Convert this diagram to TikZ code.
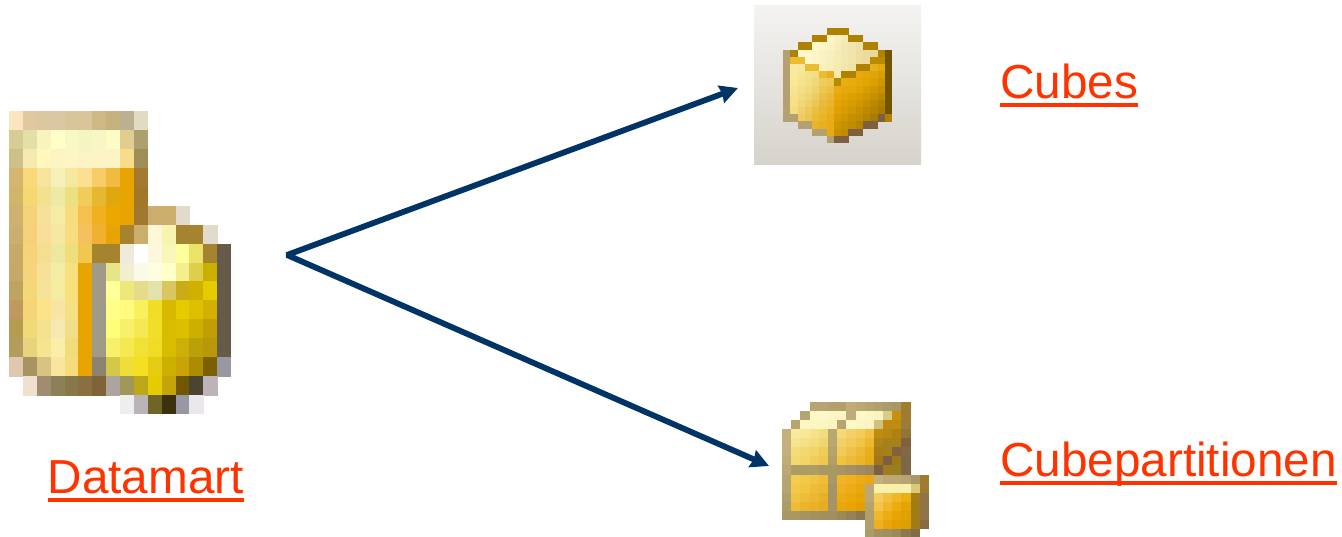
\documentclass[tikz,border=0pt]{standalone}
\usepackage{fontspec}
\usetikzlibrary{arrows.meta}
\setmainfont{Liberation Sans}
\definecolor{linkred}{HTML}{FF3300}
\definecolor{arrownavy}{HTML}{003366}
\definecolor{boxtop}{HTML}{F4F3F1}
\definecolor{boxbottom}{HTML}{D6D3CB}
\def\nopix{n}
% icon drawn cell by cell: x, y, cell width, cell height, rows
\newcommand{\pixicon}[5]{%
\foreach \row [count=\j from 0] in {#5} {
\foreach \c [count=\i from 0] in \row {
\ifx\c\nopix\else
\definecolor{pix}{HTML}{\c}
\fill[pix] (#1+\i*#3,#2+\j*#4) rectangle ++(#3+0.4,#4+0.4);
\fi
}}}
\tikzset{
linktext/.style={text=linkred, inner sep=0pt, font=\fontsize{47.7}{50}\selectfont},
linkline/.style={draw=linkred, line width=3.8pt},
flow/.style={{Stealth[length=18pt,width=18pt,inset=1.5pt]}-{Stealth[length=18pt,width=18pt,inset=1.5pt]}, color=arrownavy, line width=5.8pt, line join=bevel}
}
\begin{document}
\begin{tikzpicture}[x=1pt,y=-1pt]
\useasboundingbox (0,0) rectangle (1342,537);
\fill[white] (0,0) rectangle (1342,537);
% datamart
\pixicon{9}{111}{13.875}{18.94}{
{FCE4C0,E0C8A0,DCC8A0,DCC8A0,D9C59A,D9C59A,CEB985,C6B27F,BBB08F,E2DBC1,n,n,n,n,n,n},
{D6CC94,E4DFA6,F9F4BE,FFFFC8,F8F8C4,F5F5C0,F8F6C4,FDFBC6,E2CD90,ACA071,n,n,n,n,n,n},
{CDC088,F6E9B0,FFF7BC,FBF3C0,FDF5C4,FBF3C4,FBF3C4,FCF3C2,F8DC8C,9C8E54,n,n,n,n,n,n},
{D4B670,F8D878,F6E49C,F4F0B8,F6E8A0,FCDF90,F8CC68,F0BC40,E8A400,A47A30,n,n,n,n,n,n},
{D2B668,F4D870,F2E290,ECEAA4,EEE080,F0CC58,E4B830,E0A810,E8A400,A07828,n,n,n,n,n,n},
{CFB270,F4D27A,F6E09A,F4ECA4,F6DC7C,F6C050,F0B020,ECA800,E8A400,A07830,CCAE6C,CCAE6C,E2DACC,n,n,n},
{CCAE70,F5D27A,F8DE98,F6E8A0,F8DC80,F5C060,F0B030,E8A404,A6832F,CCAE6C,FCF8D8,F8F4B0,A6832F,A6832F,E2DACC,n},
{C8AA68,F6D278,F4DE90,ECE8A0,EEDE7C,F0C850,A6832F,A6832F,F0EADC,FFFFFF,FCF8DC,F8F6B8,FFFF9C,ECE268,A6832F,665A48},
{C6A868,F6D47C,F8E098,F2ECA4,F6E080,E8A400,A09A88,E8E488,F2EED0,FBFAE8,FFFDE0,FFFFC8,F4EE8C,DECE4C,CCB000,665A48},
{BEA460,F4D878,F6E298,F4ECA0,F8E07C,E8A400,A09A88,FFFF9C,EEE87C,E4DC88,E4E2AC,DAC660,C9AC18,D0B000,E4CC00,665A48},
{C09860,F6D478,FEE288,FAE4A4,F6E084,E8A400,A09A88,FFFF88,FFFA80,F9F060,F0DE24,D8B800,E4CC00,DEC000,D4B000,665A48},
{B49C50,F0DA78,F4E290,F6E8B0,F2DE88,E8A400,A09A88,FFFF78,F8F068,F6E854,F0DE28,D8BC00,DCC000,CCB000,C0A000,665A48},
{B49C5C,E8D47C,F6E490,FAEEA8,F0DC7C,E8A400,A09A88,F8F068,F6E850,F0E234,F0DC24,D8BC00,CCB008,BCA008,B89808,665A48},
{E0C8B0,A89460,D8C480,F9E4A0,F6DC7C,E8A400,8C8470,D4C848,F0DE38,F4E020,E4CC10,CCB000,C8A408,AC8C00,7C6000,9898A4},
{n,F0E0D0,A08C70,8C8058,887848,887040,806438,ACA4A0,A09858,BCA818,E4CC00,C4A408,705800,4C4430,BCB4B8,n},
{n,n,n,n,n,n,n,n,EEEEF0,B8B4B8,706428,3C3010,9898A4,EAE8EC,n,n}}
% cube
\shade[top color=boxtop, bottom color=boxbottom] (754,6) rectangle (921,165);
\pixicon{783}{28}{7.27}{7.19}{
{n,n,n,n,n,n,B08000,B08000,B08000,n,n,n,n,n,n},
{n,n,n,n,B08000,B08000,FCF4C8,F8F0C0,F4EAB8,B08000,B08000,n,n,n,n},
{n,n,B08000,B08000,FEF8C8,FCF6C4,FBF3C4,F6EEBC,F3E8B4,F0E4B0,EEDFA8,B08000,B08000,n,n},
{B4A070,B08000,FEF8D0,FEF8CC,FCF6C8,FAF2C4,F8F0C0,F5ECB8,F2E8B4,F0E4AC,EEDEA4,ECDBA0,E8D898,B08000,705400},
{B4A070,ECBC30,ECBC30,FEF8CC,FCF4C4,FAF2C0,F8F0BC,F5ECB4,F2E8B0,F0E4A8,EEDEA0,EEDA9C,B88C00,B88C00,705400},
{B4A070,F8EAA0,F6E8A0,ECBC30,ECBC30,FAF0BC,F8EEB8,F5EAB0,F2E6A8,F0E2A4,B08000,B08000,E8B018,E0A810,705400},
{B4A070,F8EA9C,F6E694,F4E08C,F2DC84,ECBC30,E8B020,F5EAB0,B08000,B08000,E8A810,E4A808,E0A408,D8A000,705400},
{B4A070,F8E898,F4E48C,F2DE84,F0D878,ECCE60,F0C850,B88C00,E8AC14,E8AC10,E4A808,E0A404,DCA000,D09800,705400},
{B4A070,F8E490,F2E088,F0DA7C,EED470,ECC850,ECC048,ECAC10,E6A80C,E4A808,E0A404,D89E00,D09800,C89000,705400},
{B4A070,F6E08C,F2DC80,EED674,ECCE60,E8C048,E8B838,E8A808,E0A404,DCA000,D89C00,D09800,C89000,BC8800,705400},
{B4A070,F6E088,F0D878,ECD068,E8C850,E8BC38,E8B428,E4A404,DCA000,D89C00,D09800,C89000,BC8800,B08000,705400},
{B4A070,F4DC80,EED070,ECC858,E8C040,E8B830,E8B020,E0A000,D89C00,D09800,C89000,C08800,B48400,A87C00,705400},
{B4A070,B4A070,F0CC60,ECC450,E8BC38,E8B428,E8AC18,D89C00,D09800,C89000,C08C00,B88400,A87C00,7C6040,B08000},
{n,n,B4A070,B4A070,ECB428,E8B020,E8AC10,D09800,C89000,C08C00,B88400,7C6040,7C6040,n,n},
{n,n,n,n,B4A070,B4A070,E8AC10,C89000,C08C00,7C6040,7C6040,n,n,n,n},
{n,n,n,n,n,n,B4A070,7C6040,7C6040,n,n,n,n,n,n}}
% cube partition
\pixicon{782}{402}{9.19}{9.07}{
{n,n,n,B8A470,B8A470,B4A06C,B0A06C,C0AC78,BCA874,B8A470,B0A06C,AC9C68,A89864,A07C30,n,n},
{n,n,B8A470,FCF8C8,FCF8C8,FCF6C4,FCF6C4,C0AC78,FCF8C8,FCF6C4,FCF4C0,D8CC88,C89010,A07C30,n,n},
{n,B8A470,FCF6C4,FCF6C4,FCF6C4,FCF4C0,B8A470,FCF8C8,FCF6C4,FCF4C0,D0C080,C08C10,C08C10,9C7C38,n,n},
{C4B07C,F8EC9C,F6E894,F4E28C,F2DC80,B8A870,F6D878,F4D068,F2CC5C,F0C040,C08C10,B88810,B08010,907438,n,n},
{C4B07C,F6E490,F4E088,F2DC7C,F0D670,B8A870,F4D068,F2CA58,F0C448,ECB830,B08418,A88018,A88018,806040,n,n},
{C4B07C,F4DC78,F2D870,F0D468,EECC58,B4A46C,F2CA58,F0C048,ECB838,E8B020,A87C18,A88018,806040,806844,n,n},
{C0AC78,F4D870,F2D468,F0CC58,ECC850,B0A068,F0C440,ECBC38,ECB428,E8AC18,A07818,7C6040,A07818,7C6844,n,n},
{BCA874,AC9C68,AC9C68,AC9C68,A89864,A89864,A89464,A49064,A08C60,9C8858,7C6040,A07C20,988020,7C6844,n,n},
{B8A470,F4CC50,F2C848,F0C440,EEBC38,A89864,F0B428,F0B020,ECAC18,EAA810,C4B07C,BCA874,BCA874,B8A470,A89864,A07C30},
{B8A470,F4C848,F2C440,EEBC38,ECB830,A49468,F0B020,ECAC18,E8A810,BCA874,F8F0AC,F8F0AC,F8F0AC,F8F0AC,DCC878,A07C30},
{B0A06C,F0C440,EEBC38,ECB830,E8B028,A49468,ECAC14,EAA80C,E8A404,BCA874,F4CC58,F0C040,F0B828,ECB010,A87C14,907448},
{AC9C68,EEBC38,ECB428,ECB028,E8AC20,A49468,E8A80C,E8A404,E4A000,B4A46C,F2C448,F0B828,ECAC10,E4A404,A07C18,907448},
{A89864,A89864,A49464,A49064,A09060,A09060,9C8858,94805A,8C7850,B0A06C,F0B828,ECAC14,E8A404,E0A000,A07C18,907448},
{n,n,n,n,n,n,n,n,n,B0A06C,EEB020,E8A408,E4A000,DCA000,A07C18,886C40},
{n,n,n,n,n,n,n,n,n,AC9C68,A49060,A09060,9C8858,8C7850,806C48,n}}
\node[linktext, anchor=base west] (datamart) at (47.5,493.5) {Datamart};
\node[linktext, anchor=base west] (cubes) at (1000,98.5) {Cubes};
\node[linktext, anchor=base west] (partitions) at (1000,476.5) {Cubepartitionen};
\draw[linkline] ([yshift=-6.2pt]datamart.base west) -- ([yshift=-6.2pt]datamart.base east);
\draw[linkline] ([yshift=-6.2pt]cubes.base west) -- ([yshift=-6.2pt]cubes.base east);
\draw[linkline] ([yshift=-6.2pt]partitions.base west) -- ([yshift=-6.2pt]partitions.base east);
\coordinate (fork) at (287,255);
\coordinate (cubestip) at (738,88);
\coordinate (partstip) at (769,466);
\draw[flow] (cubestip) -- (fork) -- (partstip);
\end{tikzpicture}
\end{document}
